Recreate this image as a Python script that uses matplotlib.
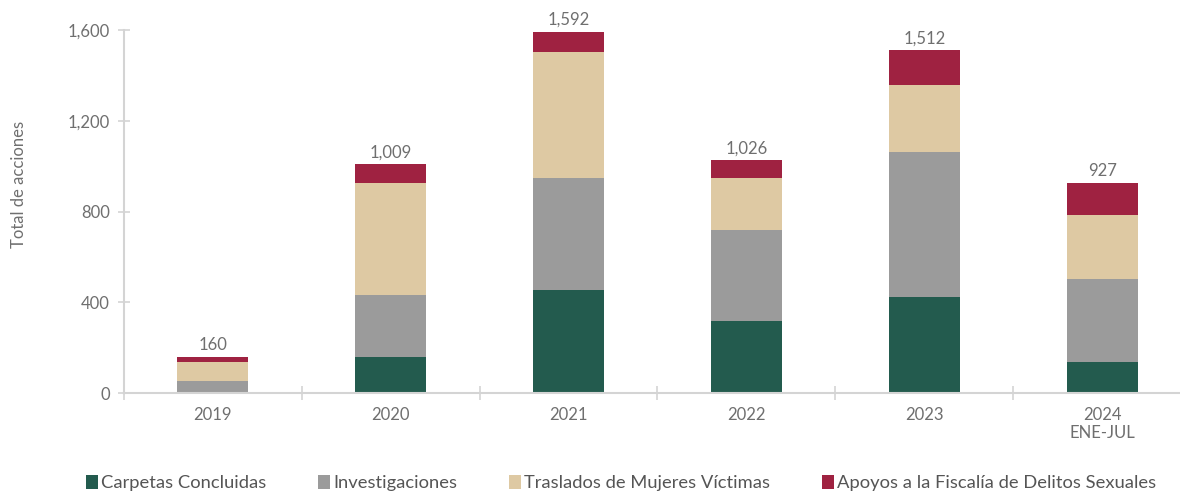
import numpy as np
import matplotlib.pyplot as plt

years = ['2019', '2020', '2021', '2022', '2023', '2024\nENE-JUL']
carpetas = [4, 159, 456, 318, 424, 136]
investigaciones = [50, 273, 494, 400, 641, 367]
traslados = [83, 495, 556, 229, 294, 282]
apoyos = [23, 82, 86, 79, 153, 142]
totales = [160, 1009, 1592, 1026, 1512, 927]

series = ['Carpetas Concluidas', 'Investigaciones', 'Traslados de Mujeres Víctimas',
          'Apoyos a la Fiscalía de Delitos Sexuales']
colors = ['#235B4E', '#9B9B9B', '#DEC9A3', '#9F2241']

plt.rcParams['font.family'] = ['Lato', 'DejaVu Sans']
txt = '#6f6f6f'
axc = '#d4d4d4'

fig = plt.figure(figsize=(11.8, 4.93), dpi=100)
ax = fig.add_axes([124/1180, 100/493, 1067/1180, 362.6/493])

x = np.arange(len(years))
bottom = np.zeros(len(years))
for vals, name, c in zip([carpetas, investigaciones, traslados, apoyos], series, colors):
    ax.bar(x, vals, 0.4, bottom=bottom, color=c, label=name)
    bottom += vals

for xi, b, t in zip(x, bottom, totales):
    ax.annotate(f'{t:,}', (xi, b), xytext=(0, 3), textcoords='offset points',
                ha='center', va='bottom', fontsize=12, color=txt)

ax.set_xlim(-0.5, 5.5)
ax.set_ylim(0, 1600)
ax.set_yticks([0, 400, 800, 1200, 1600])
ax.set_yticklabels(['0', '400', '800', '1,200', '1,600'])
ax.set_xticks(np.arange(-0.5, 6, 1))
ax.set_xticklabels([])
ax.set_xticks(x, years, minor=True)
ax.tick_params(axis='x', which='minor', length=0, pad=10, labelsize=12, labelcolor=txt)
ax.tick_params(axis='x', which='major', direction='inout', length=10, color=axc, width=1.2)
ax.tick_params(axis='y', direction='inout', length=8, color=axc, width=1.2,
               labelsize=12, labelcolor=txt, pad=6)

for s in ['top', 'right']:
    ax.spines[s].set_visible(False)
for s in ['left', 'bottom']:
    ax.spines[s].set_color(axc)
    ax.spines[s].set_linewidth(1.5)

ax.set_ylabel('Total de acciones', fontsize=12, color=txt)
ax.yaxis.set_label_coords(-0.091, 0.574)

fig.legend(loc='center', bbox_to_anchor=(621/1180, 10/493), ncol=4, frameon=False,
           fontsize=13.2, labelcolor='#555555', handlelength=0.65, handleheight=0.8,
           handletextpad=0.15, columnspacing=2.85)

fig.savefig('out.png', dpi=100)
